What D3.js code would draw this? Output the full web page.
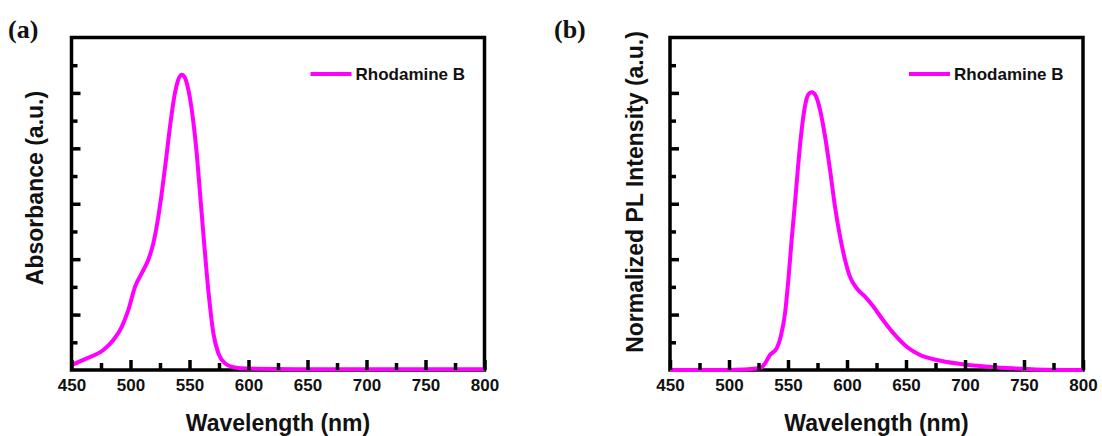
<!DOCTYPE html>
<html>
<head>
<meta charset="utf-8">
<script src="https://cdn.jsdelivr.net/npm/d3@7"></script>
<style>
  body { margin: 0; background: #fff; }
  svg text { font-family: "Liberation Sans", Arial, sans-serif; font-weight: bold; fill: #111; }
</style>
</head>
<body>
<div id="container"></div>
<script>
/**
 * DATA
 * */
const absWavelength = [450, 463, 477, 485.5, 492.6, 498.2, 503.9, 509.5, 515.1, 519.4, 523.6, 526.5, 530.1, 533.5,
  537.7, 540.5, 543.4, 546.2, 549, 552.7, 556.1, 558.9, 561.7, 564.6, 567.4, 570.2, 574.5, 580.1, 587.2, 598.5,
  650, 700, 750, 800];
const absorbance = [0.018, 0.042, 0.072, 0.108, 0.156, 0.217, 0.301, 0.349, 0.398, 0.458, 0.554, 0.639, 0.759, 0.879,
  1.0, 1.048, 1.066, 1.054, 1.012, 0.915, 0.783, 0.639, 0.494, 0.349, 0.229, 0.133, 0.060, 0.024, 0.010, 0.005,
  0.003, 0.003, 0.003, 0.003];

const plWavelength = [450, 500, 526.3, 530.5, 534.7, 540.4, 543.8, 547.5, 550.3, 553.1, 555.9, 558.8, 561.6, 564.4,
  567.2, 570.1, 573.7, 577.1, 581.4, 585.6, 589.8, 594.1, 598.3, 602.5, 608.2, 615.3, 622.3, 629.4, 639.3, 650.6,
  661.9, 676, 695.8, 720, 740, 760, 800];
const plIntensity = [0, 0, 0.006, 0.024, 0.054, 0.078, 0.120, 0.205, 0.325, 0.470, 0.602, 0.747, 0.867, 0.952,
  0.994, 1.002, 0.988, 0.940, 0.843, 0.723, 0.590, 0.482, 0.398, 0.337, 0.295, 0.265, 0.229, 0.187, 0.133, 0.084,
  0.054, 0.036, 0.022, 0.012, 0.006, 0.002, 0];

const xMajorTicks = [450, 500, 550, 600, 650, 700, 750, 800];
const xMinorTicks = [475, 525, 575, 625, 675, 725, 775];
const yMajorTicks = [0.2, 0.4, 0.6, 0.8, 1.0];
const yMinorTicks = [0.1, 0.3, 0.5, 0.7, 0.9, 1.1];

const seriesName = "Rhodamine B";

/**
 * CONSTANTS
 * */
const width = 1102, height = 436;
const plotTop = 37.5, plotBottom = 370;
const lineColor = "#ff00ff";

const svg = d3.select("#container")
  .append("svg")
  .attr("width", width)
  .attr("height", height);

const panels = [
  { tag: "(a)", tagX: 8, left: 71.5, right: 484.5, yTitle: "Absorbance (a.u.)", yTitleX: 43, yTitleY: 188,
    xs: absWavelength, ys: absorbance },
  { tag: "(b)", tagX: 554, left: 670, right: 1083, yTitle: "Normalized PL Intensity (a.u.)", yTitleX: 643, yTitleY: 192,
    xs: plWavelength, ys: plIntensity }
];

panels.forEach(p => drawPanel(p));

function drawPanel(p) {
  const g = svg.append("g");

  const x = d3.scaleLinear().domain([450, 800]).range([p.left, p.right]);
  const y = d3.scaleLinear().domain([0, 1.2]).range([plotBottom, plotTop]);

  // frame
  g.append("rect")
    .attr("x", p.left).attr("y", plotTop)
    .attr("width", p.right - p.left).attr("height", plotBottom - plotTop)
    .attr("fill", "none")
    .attr("stroke", "#000")
    .attr("stroke-width", 3.5);

  // curve
  const pts = p.xs.map((d, i) => [d, p.ys[i]]);
  const line = d3.line()
    .x(d => x(d[0]))
    .y(d => y(d[1]))
    .curve(d3.curveMonotoneX);

  g.append("path")
    .datum(pts)
    .attr("d", line)
    .attr("fill", "none")
    .attr("stroke", lineColor)
    .attr("stroke-width", 4)
    .attr("stroke-linejoin", "round");

  // x axis (inward ticks)
  const xMaj = g.append("g")
    .attr("transform", `translate(0,${plotBottom})`)
    .call(d3.axisBottom(x).tickValues(xMajorTicks).tickSize(-10).tickPadding(9).tickFormat(d3.format("d")));
  const xMin = g.append("g")
    .attr("transform", `translate(0,${plotBottom})`)
    .call(d3.axisBottom(x).tickValues(xMinorTicks).tickSize(-7).tickFormat(""));

  // y axis (inward ticks, no labels)
  const yMaj = g.append("g")
    .attr("transform", `translate(${p.left},0)`)
    .call(d3.axisLeft(y).tickValues(yMajorTicks).tickSize(-9).tickFormat(""));
  const yMin = g.append("g")
    .attr("transform", `translate(${p.left},0)`)
    .call(d3.axisLeft(y).tickValues(yMinorTicks).tickSize(-6).tickFormat(""));

  [xMaj, xMin, yMaj, yMin].forEach(a => {
    a.select(".domain").remove();
    a.selectAll(".tick line").attr("stroke", "#000").attr("stroke-width", 3.5);
  });
  xMaj.selectAll(".tick text")
    .style("font-size", "17px")
    .style("font-family", "'Liberation Sans', Arial, sans-serif")
    .style("font-weight", "bold")
    .attr("fill", "#111");

  // axis titles
  g.append("text")
    .attr("x", (p.left + p.right) / 2)
    .attr("y", 431)
    .attr("text-anchor", "middle")
    .attr("font-size", 23)
    .text("Wavelength (nm)");

  g.append("text")
    .attr("transform", `translate(${p.yTitleX},${p.yTitleY}) rotate(-90)`)
    .attr("text-anchor", "middle")
    .attr("font-size", 23)
    .text(p.yTitle);

  // legend
  const lx = p.right - 174;
  g.append("line")
    .attr("x1", lx).attr("x2", lx + 41)
    .attr("y1", 74).attr("y2", 74)
    .attr("stroke", lineColor)
    .attr("stroke-width", 4);
  g.append("text")
    .attr("x", lx + 45)
    .attr("y", 74)
    .attr("dominant-baseline", "central")
    .attr("font-size", 17)
    .text(seriesName);

  // panel tag
  g.append("text")
    .attr("x", p.tagX)
    .attr("y", 38)
    .attr("font-size", 26)
    .style("font-family", "'Liberation Serif', 'Times New Roman', serif")
    .text(p.tag);
}
</script>
</body>
</html>
